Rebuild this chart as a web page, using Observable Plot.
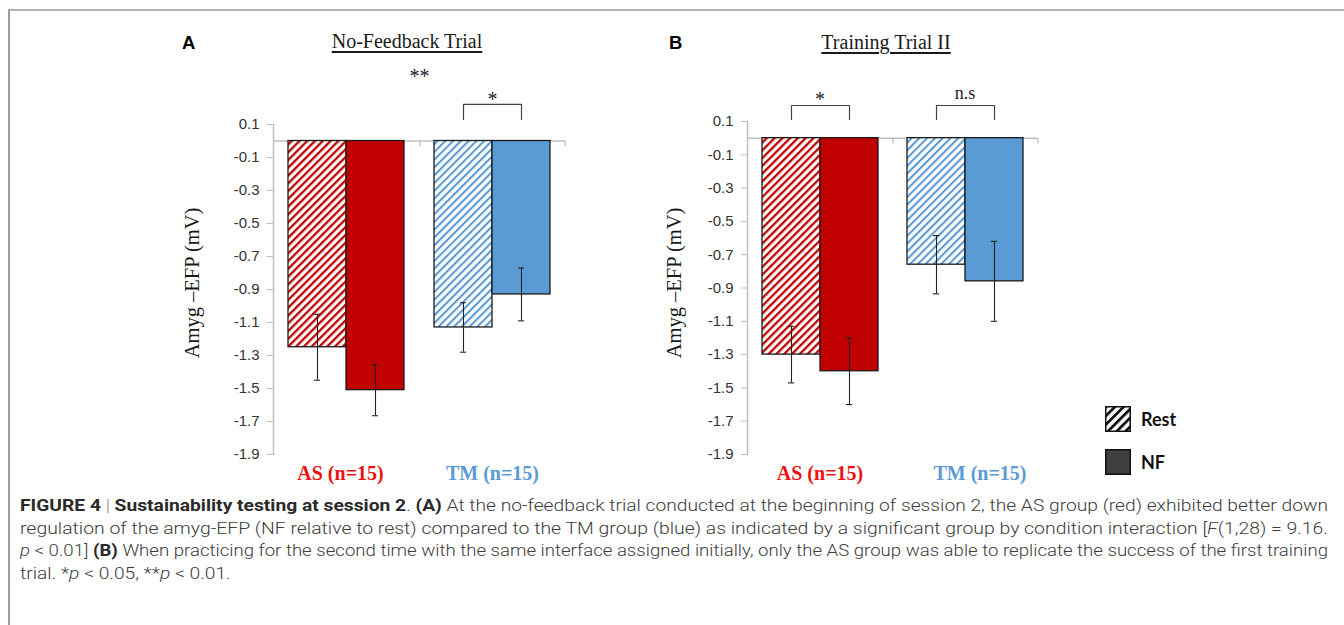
<!DOCTYPE html>
<html>
<head>
<meta charset="utf-8">
<script src="https://cdn.jsdelivr.net/npm/d3@7"></script>
<script src="https://cdn.jsdelivr.net/npm/@observablehq/plot@0.6"></script>
<style>
  html, body { margin: 0; padding: 0; background: #fff; }
  body { width: 1344px; height: 625px; position: relative; overflow: hidden; }
  #figframe { position: absolute; left: 8px; top: 9px; width: 1340px; height: 620px;
    border-top: 2px solid #b4b4b4; border-left: 2px solid #9c9c9c; }
  .panel { position: absolute; top: 60px; }
  .panel svg { overflow: visible; }
  .panel g[aria-label="y-axis tick label"] { font-size: 15px !important; }
  .plab { position: absolute; font: bold 18.5px "Liberation Sans", Arial, sans-serif; line-height: 18px; color: #000; }
  .ptitle { position: absolute; font: 20px "Liberation Serif", "Times New Roman", serif; line-height: 20px;
    text-decoration: underline; text-underline-offset: 3px; transform: translateX(-50%); white-space: nowrap; color: #1a1a1a; }
  .ylab { position: absolute; font: 20.5px "Liberation Serif", "Times New Roman", serif; line-height: 20px; white-space: nowrap;
    color: #1a1a1a; transform: translate(-50%, -50%) rotate(-90deg); }
  #legend { position: absolute; left: 1105px; top: 406px; }
  .litem { position: absolute; left: 0; display: flex; align-items: center; white-space: nowrap; }
  .litem span { font: bold 18px Lato, "Open Sans", sans-serif; color: #111; margin-left: 10px; }
  #caption { position: absolute; left: 20px; top: 495px; width: 1308px;
    font: 300 16.5px Roboto, "Liberation Sans", sans-serif; line-height: 22.7px; color: #3c3c3c; }
  #caption .ln { white-space: nowrap; transform-origin: 0 0; width: max-content; }
  #caption b { font-weight: 700; color: #2a2a2a; }
  #caption .bar { color: #888; }
</style>
</head>
<body>
<div id="figframe"></div>
<svg id="defs" width="0" height="0" style="position:absolute;left:0;top:0"><defs></defs></svg>
<div id="root"></div>
<div id="legend"></div>
<div id="caption">
  <div class="ln j"><b>FIGURE 4</b> <span class="bar">|</span> <b>Sustainability testing at session 2</b>. <b>(A)</b> At the no-feedback trial conducted at the beginning of session 2, the AS group (red) exhibited better down</div>
  <div class="ln j">regulation of the amyg-EFP (NF relative to rest) compared to the TM group (blue) as indicated by a significant group by condition interaction [<i>F</i>(1,28) = 9.16.</div>
  <div class="ln j"><i>p</i> &lt; 0.01] <b>(B)</b> When practicing for the second time with the same interface assigned initially, only the AS group was able to replicate the success of the first training</div>
  <div class="ln">trial. *<i>p</i> &lt; 0.05, **<i>p</i> &lt; 0.01.</div>
</div>
<script>
// ---------------- data ----------------
const groups = ["AS", "TM"];
const groupLabels = ["AS (n=15)", "TM (n=15)"];
const conditions = ["Rest", "NF"];
const panelLetters = ["A", "B"];
const panelTitles = ["No-Feedback Trial", "Training Trial II"];
// order: AS-Rest, AS-NF, TM-Rest, TM-NF
const noFeedbackMeans = [-1.25, -1.51, -1.13, -0.93];
const noFeedbackSE = [0.20, 0.155, 0.15, 0.16];
const trainingMeans = [-1.30, -1.40, -0.76, -0.86];
const trainingSE = [0.17, 0.20, 0.175, 0.24];
const yTicks = [0.1, -0.1, -0.3, -0.5, -0.7, -0.9, -1.1, -1.3, -1.5, -1.7, -1.9];
const yLabel = "Amyg \u2013EFP (mV)";
const noFeedbackSig = [{group: "TM", text: "*"}];
const noFeedbackOverall = ["**"];
const trainingSig = [{group: "AS", text: "*"}, {group: "TM", text: "n.s"}];
const legendItems = ["Rest", "NF"];

// ---------------- styles ----------------
const barColors = {AS: "#c00000", TM: "#5b9bd5"};
const labelColors = {AS: "#ee1111", TM: "#5b9bd5"};
const axisGray = "#bfbfbf";
const SERIF = "Liberation Serif, Times New Roman, serif";

// hatch patterns
const defs = d3.select("#defs defs");
function hatch(id, color, period, stripe) {
  const p = defs.append("pattern").attr("id", id).attr("patternUnits", "userSpaceOnUse")
    .attr("width", period).attr("height", period).attr("patternTransform", "rotate(45)");
  p.append("rect").attr("width", period).attr("height", period).attr("fill", "#fff");
  p.append("rect").attr("width", stripe).attr("height", period).attr("fill", color);
}
hatch("hatch-AS", barColors.AS, 5.5, 2.3);
hatch("hatch-TM", barColors.TM, 5.5, 2.1);
hatch("hatch-legend", "#111", 6.2, 2.8);

function panel(cfg) {
  const rows = [];
  groups.forEach((g, gi) => conditions.forEach((c, ci) => {
    const i = gi * 2 + ci;
    rows.push({group: g, cond: c, mean: cfg.means[i], lo: cfg.means[i] - cfg.se[i], hi: cfg.means[i] + cfg.se[i]});
  }));
  const padOuter = 0.24;
  const facetW = (cfg.width - cfg.marginLeft - cfg.marginRight) / groups.length;
  const step = facetW / (conditions.length + 2 * padOuter);
  const edgeOff = step / 2 + padOuter * step;
  const capInset = (step - 7) / 2;

  const bars = [];
  for (const g of groups) for (const c of conditions) {
    bars.push(Plot.barY(rows.filter(d => d.group === g && d.cond === c), {
      fx: "group", x: "cond", y: "mean",
      fill: c === "Rest" ? `url(#hatch-${g})` : barColors[g],
      stroke: "#1a1a1a", strokeWidth: 1.3
    }));
  }
  const bracketPts = [];
  cfg.sig.forEach((s, k) => {
    bracketPts.push({k, group: s.group, cond: "Rest", y: cfg.legY});
    bracketPts.push({k, group: s.group, cond: "Rest", y: cfg.topY});
    bracketPts.push({k, group: s.group, cond: "NF", y: cfg.topY});
    bracketPts.push({k, group: s.group, cond: "NF", y: cfg.legY});
  });

  const marks = [
    Plot.ruleY([0], {stroke: axisGray, strokeWidth: 1.5}),
    // category boundary tick marks under the zero line
    Plot.ruleX(["TM"], {fx: d => d, x: () => "Rest", y1: 0, y2: -0.035, dx: -edgeOff, stroke: axisGray, strokeWidth: 1.3}),
    Plot.ruleX(["TM"], {fx: d => d, x: () => "NF", y1: 0, y2: -0.035, dx: edgeOff, stroke: axisGray, strokeWidth: 1.3}),
    Plot.frame({anchor: "left", stroke: axisGray, strokeWidth: 1.5, facetAnchor: "left"}),
    Plot.axisY({ticks: yTicks, tickFormat: d => d.toFixed(1), tickSize: 6, tickPadding: 8,
      stroke: axisGray, fill: "#333", fontSize: 15, label: null}),
    ...bars,
    Plot.ruleX(rows, {fx: "group", x: "cond", y1: "lo", y2: "hi", stroke: "#222", strokeWidth: 1.1}),
    Plot.tickY(rows, {fx: "group", x: "cond", y: "lo", insetLeft: capInset, insetRight: capInset, stroke: "#222", strokeWidth: 1.1}),
    Plot.tickY(rows, {fx: "group", x: "cond", y: "hi", insetLeft: capInset, insetRight: capInset, stroke: "#222", strokeWidth: 1.1}),
    Plot.line(bracketPts, {fx: "group", x: "cond", y: "y", z: "k", stroke: "#444", strokeWidth: 1.2}),
    ...cfg.sig.map(s => Plot.text([s], {fx: "group", text: "text", y: cfg.sigY, dy: s.text === "*" ? 0 : -6,
      fontFamily: SERIF, fontSize: s.text === "*" ? 20 : 18, fill: "#1a1a1a"})),
    ...(cfg.overall ? [Plot.text(cfg.overall, {fx: () => "TM", text: d => d, frameAnchor: "left", y: cfg.overallY,
      textAnchor: "middle", fontFamily: SERIF, fontSize: 20, fill: "#1a1a1a"})] : []),
    ...groups.map((g, gi) => Plot.text([g], {fx: d => d, text: () => groupLabels[gi], frameAnchor: "bottom",
      lineAnchor: "middle", dy: 19, dx: cfg.labelDx[gi], fontFamily: SERIF, fontWeight: "bold", fontSize: 20, fill: labelColors[g]}))
  ];

  return Plot.plot({
    width: cfg.width, height: cfg.height,
    marginLeft: cfg.marginLeft, marginRight: cfg.marginRight, marginTop: cfg.marginTop, marginBottom: cfg.marginBottom,
    fx: {domain: groups, paddingInner: 0, paddingOuter: 0, axis: null, label: null},
    x: {domain: conditions, paddingInner: 0, paddingOuter: padOuter, axis: null, label: null},
    y: {domain: [-1.9, 0.1], axis: null, label: null},
    style: {fontFamily: "Liberation Sans, Arial, sans-serif", fontSize: "15px", background: "transparent", overflow: "visible"},
    marks
  });
}

const panelCfgs = [
  {left: 160, width: 425, height: 430, marginLeft: 112, marginRight: 20, marginTop: 64, marginBottom: 36,
   means: noFeedbackMeans, se: noFeedbackSE, sig: noFeedbackSig, overall: noFeedbackOverall,
   topY: 0.222, legY: 0.131, sigY: 0.25, overallY: 0.39, labelDx: [-6, 0],
   letterX: 182, letterTop: 34, titleX: 407, titleTop: 31, ylabX: 192, ylabY: 283},
  {left: 640, width: 417, height: 430, marginLeft: 106, marginRight: 20, marginTop: 61, marginBottom: 36,
   means: trainingMeans, se: trainingSE, sig: trainingSig, overall: null,
   topY: 0.196, legY: 0.112, sigY: 0.232, overallY: 0, labelDx: [0, 15],
   letterX: 669, letterTop: 34, titleX: 886, titleTop: 32, ylabX: 674, ylabY: 283}
];

const root = document.getElementById("root");
panelCfgs.forEach((cfg, i) => {
  const div = document.createElement("div");
  div.className = "panel";
  div.style.left = cfg.left + "px";
  div.appendChild(panel(cfg));
  root.appendChild(div);
  const lab = document.createElement("div");
  lab.className = "plab"; lab.textContent = panelLetters[i];
  lab.style.left = cfg.letterX + "px"; lab.style.top = cfg.letterTop + "px";
  root.appendChild(lab);
  const t = document.createElement("div");
  t.className = "ptitle"; t.textContent = panelTitles[i];
  t.style.left = cfg.titleX + "px"; t.style.top = cfg.titleTop + "px";
  root.appendChild(t);
  const yl = document.createElement("div");
  yl.className = "ylab"; yl.textContent = yLabel;
  yl.style.left = cfg.ylabX + "px"; yl.style.top = cfg.ylabY + "px";
  root.appendChild(yl);
});

// legend
const legend = document.getElementById("legend");
legendItems.forEach((name, i) => {
  const item = document.createElement("div");
  item.className = "litem";
  item.style.top = (i * 43) + "px";
  const fill = name === "Rest" ? "url(#hatch-legend)" : "#404040";
  item.innerHTML = `<svg width="26" height="26"><rect x="0.75" y="0.75" width="24.5" height="24.5" fill="${fill}" stroke="#111" stroke-width="1.5"/></svg><span>${name}</span>`;
  legend.appendChild(item);
});

// caption: each full line is condensed horizontally to span the text width
(function fitCaption() {
  const lines = document.querySelectorAll("#caption .ln");
  const target = 1308;
  let s1 = 1;
  lines.forEach((el, i) => {
    const w = el.getBoundingClientRect().width;
    const s = el.classList.contains("j") ? target / w : s1;
    if (i === 0) s1 = s;
    el.style.transform = `scaleX(${s})`;
  });
})();
</script>
</body>
</html>
